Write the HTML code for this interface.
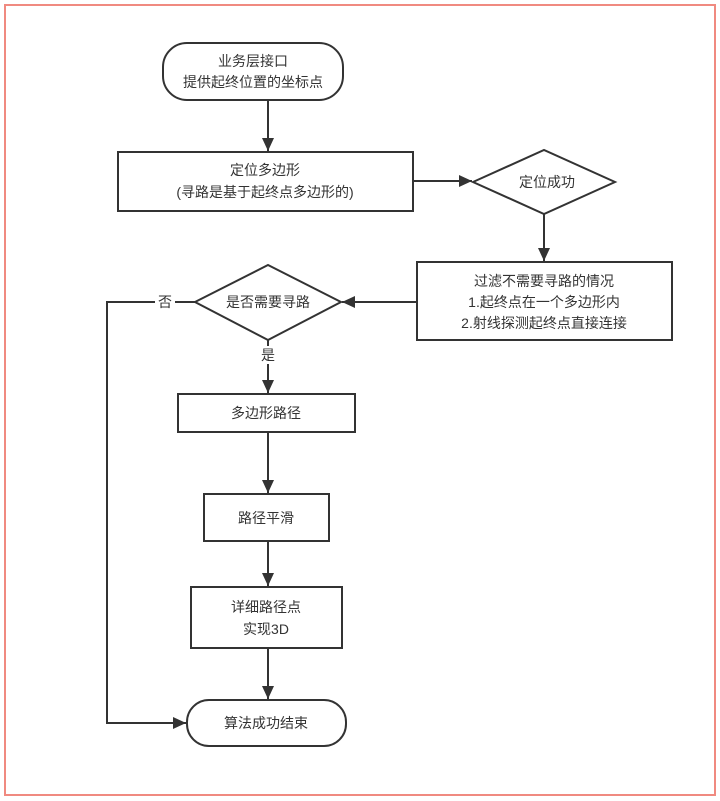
<!DOCTYPE html>
<html><head><meta charset="utf-8"><style>
html,body{margin:0;padding:0;background:#fff;}
svg{display:block;}
text{font-family:"Liberation Sans","Noto Sans CJK SC",sans-serif;font-size:14px;fill:#333;text-anchor:middle;dominant-baseline:central;}
</style></head><body>
<svg width="720" height="801" viewBox="0 0 720 801" xmlns="http://www.w3.org/2000/svg">
<defs><marker id="a" markerWidth="10" markerHeight="10" refX="9" refY="5" orient="auto" markerUnits="userSpaceOnUse"><path d="M0,0 L10,5 L0,10 Z" fill="#333"/></marker>
<marker id="b" markerWidth="14" markerHeight="14" refX="13" refY="7" orient="auto" markerUnits="userSpaceOnUse"><path d="M0,1 L13,7 L0,13 Z" fill="#333"/></marker></defs>
<rect x="5" y="5" width="710" height="790" fill="none" stroke="#f08a80" stroke-width="2"/>
<g fill="#fff" stroke="#333" stroke-width="2">
<rect x="163" y="43" width="180" height="57" rx="24"/>
<rect x="118" y="152" width="295" height="59"/>
<polygon points="473,182 544,150 615,182 544,214"/>
<rect x="417" y="262" width="255" height="78"/>
<polygon points="195,302 268,265 341,302 268,340"/>
<rect x="178" y="394" width="177" height="38"/>
<rect x="204" y="494" width="125" height="47"/>
<rect x="191" y="587" width="151" height="61"/>
<rect x="187" y="700" width="159" height="46" rx="22"/>
</g>
<g stroke="#333" stroke-width="2" fill="none">
<line x1="268" y1="100" x2="268" y2="151" marker-end="url(#b)"/>
<line x1="413" y1="181" x2="472" y2="181" marker-end="url(#b)"/>
<line x1="544" y1="214" x2="544" y2="261" marker-end="url(#b)"/>
<line x1="417" y1="302" x2="342" y2="302" marker-end="url(#b)"/>
<line x1="268" y1="340" x2="268" y2="393" marker-end="url(#b)"/>
<line x1="268" y1="432" x2="268" y2="493" marker-end="url(#b)"/>
<line x1="268" y1="541" x2="268" y2="586" marker-end="url(#b)"/>
<line x1="268" y1="648" x2="268" y2="699" marker-end="url(#b)"/>
<polyline points="195,302 107,302 107,723 186,723" marker-end="url(#b)"/>
</g>
<rect x="155" y="293" width="20" height="18" fill="#fff"/>
<rect x="258" y="346" width="20" height="18" fill="#fff"/>
<text x="165" y="302">否</text>
<text x="268" y="355">是</text>
<text x="253" y="61">业务层接口</text>
<text x="253" y="82">提供起终位置的坐标点</text>
<text x="265" y="170">定位多边形</text>
<text x="265" y="192">(寻路是基于起终点多边形的)</text>
<text x="547" y="182">定位成功</text>
<text x="544" y="281">过滤不需要寻路的情况</text>
<text x="544" y="302">1.起终点在一个多边形内</text>
<text x="544" y="323">2.射线探测起终点直接连接</text>
<text x="268" y="302">是否需要寻路</text>
<text x="266" y="413">多边形路径</text>
<text x="266" y="518">路径平滑</text>
<text x="266" y="607">详细路径点</text>
<text x="266" y="629">实现3D</text>
<text x="266" y="723">算法成功结束</text>
</svg>
</body></html>
